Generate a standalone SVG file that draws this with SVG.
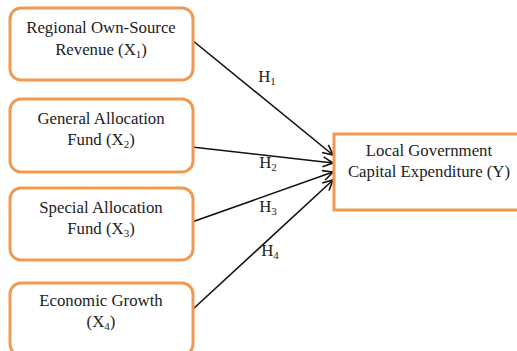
<svg xmlns="http://www.w3.org/2000/svg" width="517" height="351" viewBox="0 0 517 351" font-family="Liberation Serif, Times New Roman, serif">
<defs>
<style>
.box{fill:#fff;stroke:#EE9A52;stroke-width:3}
.t{font-size:16.8px;fill:#222;text-anchor:middle}
.s{font-size:11px}
.c{stroke:#111;stroke-width:1.6;fill:none;marker-end:url(#ah)}
</style>
<marker id="ah" viewBox="0 0 12 12" refX="11" refY="6" markerWidth="12" markerHeight="12" markerUnits="userSpaceOnUse" orient="auto">
<path d="M1,1 L11,6 L1,11" fill="none" stroke="#111" stroke-width="1.6"/>
</marker>
</defs>
<rect width="517" height="351" fill="#fff"/>
<g id="connectors">
<line class="c" x1="192" y1="40" x2="333" y2="155"/>
<line class="c" x1="192" y1="147" x2="333" y2="163"/>
<line class="c" x1="192" y1="222" x2="333" y2="172"/>
<line class="c" x1="192" y1="310" x2="333" y2="180"/>
<text class="t" x="267" y="82">H<tspan class="s" dy="3">1</tspan></text>
<text class="t" x="268" y="168">H<tspan class="s" dy="3">2</tspan></text>
<text class="t" x="268" y="212">H<tspan class="s" dy="3">3</tspan></text>
<text class="t" x="270" y="256">H<tspan class="s" dy="3">4</tspan></text>
</g>
<g id="x1">
<rect class="box" x="10" y="8" width="183" height="72" rx="11"/>
<text class="t" x="101" y="33">Regional Own-Source</text>
<text class="t" x="101" y="55">Revenue (X<tspan class="s" dy="3">1</tspan><tspan dy="-3">)</tspan></text>
</g>
<g id="x2">
<rect class="box" x="10" y="99" width="183" height="73" rx="11"/>
<text class="t" x="101" y="124">General Allocation</text>
<text class="t" x="101" y="145">Fund (X<tspan class="s" dy="3">2</tspan><tspan dy="-3">)</tspan></text>
</g>
<g id="x3">
<rect class="box" x="10" y="188" width="183" height="72" rx="11"/>
<text class="t" x="101" y="213">Special Allocation</text>
<text class="t" x="101" y="234">Fund (X<tspan class="s" dy="3">3</tspan><tspan dy="-3">)</tspan></text>
</g>
<g id="x4">
<rect class="box" x="10" y="283" width="183" height="72" rx="11"/>
<text class="t" x="101" y="306">Economic Growth</text>
<text class="t" x="101" y="327">(X<tspan class="s" dy="3">4</tspan><tspan dy="-3">)</tspan></text>
</g>
<g id="y">
<rect class="box" x="334" y="134" width="190" height="76"/>
<text class="t" x="429" y="156">Local Government</text>
<text class="t" x="429" y="177">Capital Expenditure (Y)</text>
</g>
</svg>
